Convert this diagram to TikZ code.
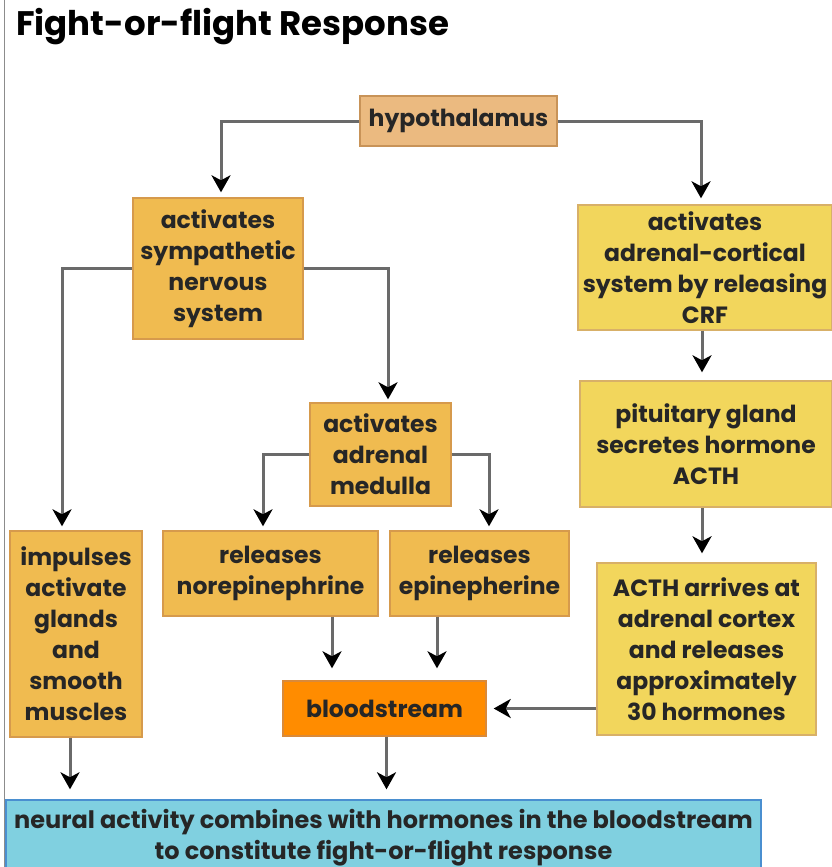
\documentclass[tikz,border=0pt]{standalone}
\usepackage{fontspec}
\setmainfont{Poppins}
\usetikzlibrary{arrows.meta,calc}
\definecolor{tanfill}{HTML}{EBBA80}
\definecolor{tanline}{HTML}{C89358}
\definecolor{orfill}{HTML}{F0BB50}
\definecolor{orline}{HTML}{D69A4C}
\definecolor{yefill}{HTML}{F2D65C}
\definecolor{yeline}{HTML}{D8B068}
\definecolor{blfill}{HTML}{FF8C00}
\definecolor{blline}{HTML}{D98A3A}
\definecolor{cyfill}{HTML}{80D0E0}
\definecolor{cyline}{HTML}{4A8FD0}
\definecolor{conn}{HTML}{6A6A6A}
\begin{document}
\begin{tikzpicture}[x=1pt,y=-1pt,
  box/.style={draw, line width=1.4pt, rectangle, inner sep=0pt, align=center,
    font=\fontsize{23.5}{31}\selectfont\bfseries, text=black!85},
  tanbox/.style={box, fill=tanfill, draw=tanline},
  orbox/.style={box, fill=orfill, draw=orline},
  yebox/.style={box, fill=yefill, draw=yeline},
  blbox/.style={box, fill=blfill, draw=blline},
  cybox/.style={box, fill=cyfill, draw=cyline, font=\fontsize{24}{31}\selectfont\bfseries},
  conn/.style={draw=conn, line width=3pt,
    -{Stealth[length=17pt,width=19pt,inset=5pt,color=black]}},
  title/.style={font=\fontsize{34}{38}\selectfont\bfseries, inner sep=0pt}
]
\useasboundingbox (0,0) rectangle (831,867);
\draw[line width=1.5pt, draw=black!45] (4.5,0) -- (4.5,867);
\node[title, anchor=base west] (title) at (16,36) {Fight-or-flight Response};

\node[tanbox, minimum width=197, minimum height=50] (hyp) at (458.5,121) {hypothalamus};
\node[orbox, minimum width=170, minimum height=141] (sym) at (218,268.5) {activates\\sympathetic\\nervous\\system};
\node[yebox, minimum width=254, minimum height=125] (crf) at (705,267.5) {activates\\adrenal-cortical\\system by releasing\\CRF};
\node[yebox, minimum width=252, minimum height=126] (pit) at (706,444) {pituitary gland\\secretes hormone\\ACTH};
\node[yebox, minimum width=219, minimum height=172] (acth) at (706.5,649) {ACTH arrives at\\adrenal cortex\\and releases\\approximately\\30 hormones};
\node[orbox, minimum width=141, minimum height=103] (med) at (380.5,454.5) {activates\\adrenal\\medulla};
\node[orbox, minimum width=132, minimum height=206] (imp) at (76,634) {impulses\\activate\\glands\\and\\smooth\\muscles};
\node[orbox, minimum width=215, minimum height=85] (nor) at (270.5,573.5) {releases\\norepinephrine};
\node[orbox, minimum width=179, minimum height=85] (epi) at (479.5,573.5) {releases\\epinepherine};
\node[blbox, minimum width=203, minimum height=55] (blood) at (384.5,708.5) {bloodstream};
\node[cybox, minimum width=755, minimum height=75] (final) at (383.5,837.5) {neural activity combines with hormones in the bloodstream\\to constitute fight-or-flight response};

\draw[conn, shorten >=5pt] (hyp.west) -| ([xshift=3pt]sym.north);
\draw[conn, shorten >=6pt] (hyp.east) -| ([xshift=-4pt]crf.north);
\draw[conn, shorten >=3pt] (sym.east) -| ([xshift=7.5pt]med.north);
\draw[conn, shorten >=4pt] (sym.west) -| ([xshift=-14pt]imp.north);
\draw[conn, shorten >=4pt] (med.west) -| ([xshift=-7.5pt]nor.north);
\draw[conn, shorten >=4pt] (med.east) -| ([xshift=9.5pt]epi.north);
\draw[conn, shorten >=8pt] ([xshift=-3pt]crf.south) -- ([xshift=-3pt]crf.south |- pit.north);
\draw[conn, shorten >=9pt] ([xshift=-4pt]pit.south) -- ([xshift=-4pt]pit.south |- acth.north);
\draw[conn, shorten >=12pt] ([xshift=61.5pt]nor.south) -- ([xshift=61.5pt]nor.south |- blood.north);
\draw[conn, shorten >=12pt] ([xshift=-42.5pt]epi.south) -- ([xshift=-42.5pt]epi.south |- blood.north);
\draw[conn, shorten >=7pt] (acth.west |- blood.east) -- (blood.east);
\draw[conn, shorten >=10pt] ([xshift=-6pt]imp.south) -- ([xshift=-6pt]imp.south |- final.north);
\draw[conn, shorten >=10pt] ([xshift=2pt]blood.south) -- ([xshift=2pt]blood.south |- final.north);
\end{tikzpicture}
\end{document}
